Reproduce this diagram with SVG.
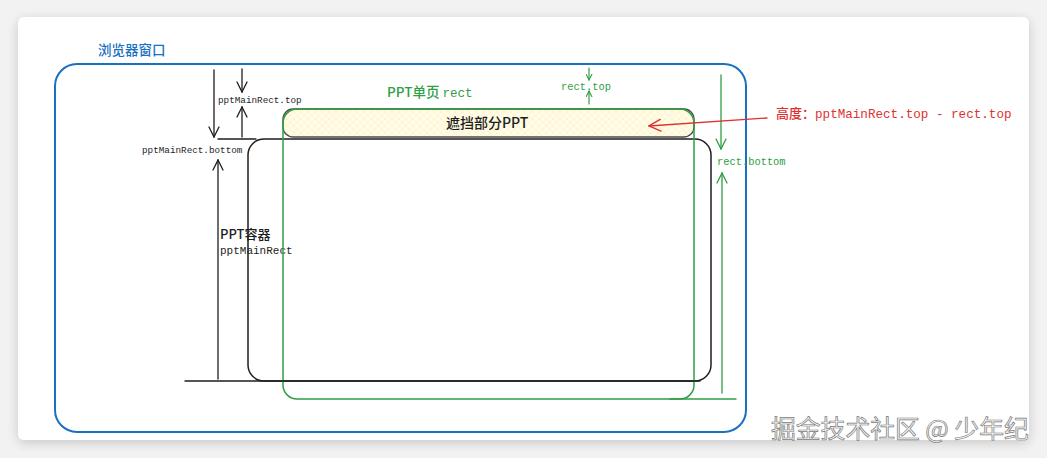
<svg xmlns="http://www.w3.org/2000/svg" width="1047" height="458" viewBox="0 0 1047 458">
<defs>
<filter id="sh" x="-5%" y="-5%" width="110%" height="115%">
<feGaussianBlur in="SourceAlpha" stdDeviation="6"/>
<feOffset dy="3"/>
<feComponentTransfer><feFuncA type="linear" slope="0.18"/></feComponentTransfer>
<feMerge><feMergeNode/><feMergeNode in="SourceGraphic"/></feMerge>
</filter>
<pattern id="hatch" width="7" height="7" patternUnits="userSpaceOnUse">
<rect width="7" height="7" fill="#fffcec"/>
<path d="M0 0 L7 7 M7 0 L0 7" stroke="#fff0b0" stroke-width="0.7" fill="none"/>
</pattern>
<marker id="ab" viewBox="0 0 12 12" refX="11" refY="6" markerWidth="12" markerHeight="12" markerUnits="userSpaceOnUse" orient="auto">
<path d="M1 1 L11 6 L1 11" fill="none" stroke="#1e1e1e" stroke-width="1.3" stroke-linecap="round"/>
</marker>
<marker id="ag" viewBox="0 0 12 12" refX="11" refY="6" markerWidth="12" markerHeight="12" markerUnits="userSpaceOnUse" orient="auto">
<path d="M1 1 L11 6 L1 11" fill="none" stroke="#2f9e44" stroke-width="1.3" stroke-linecap="round"/>
</marker>
<marker id="ags" viewBox="0 0 12 12" refX="11" refY="6" markerWidth="7" markerHeight="7" markerUnits="userSpaceOnUse" orient="auto">
<path d="M1 1 L11 6 L1 11" fill="none" stroke="#2f9e44" stroke-width="1.8" stroke-linecap="round"/>
</marker>
<marker id="ar" viewBox="0 0 12 12" refX="11" refY="6" markerWidth="14" markerHeight="14" markerUnits="userSpaceOnUse" orient="auto">
<path d="M1 1 L11 6 L1 11" fill="none" stroke="#e03131" stroke-width="1.2" stroke-linecap="round"/>
</marker>
</defs>
<style>
.mono{font-family:"Liberation Mono","DejaVu Sans Mono",monospace;}
.sans{font-family:"Noto Sans CJK SC","Noto Sans",sans-serif;font-weight:500;}
.blk{fill:#1e1e1e;}
.grn{fill:#2f9e44;}
.ln{fill:none;stroke-linecap:round;}
</style>
<rect x="0" y="0" width="1047" height="458" fill="#f2f2f2"/>
<rect x="18" y="17" width="1011" height="423" rx="6" fill="#ffffff" filter="url(#sh)"/>

<g id="browser">
<rect x="55" y="64" width="691" height="368" rx="22" fill="none" stroke="#1971c2" stroke-width="2"/>
<text x="98" y="55" class="sans" font-size="13.5" fill="#1971c2">浏览器窗口</text>
</g>

<g id="ppt-container">
<rect x="248" y="139" width="463" height="242" rx="16" fill="none" stroke="#1e1e1e" stroke-width="1.5"/>
<text x="220" y="239" class="sans blk" font-size="13">PPT容器</text>
<text x="220" y="254" class="mono blk" font-size="11">pptMainRect</text>
</g>

<g id="hidden-part">
<rect x="283" y="109" width="411" height="28" rx="10" fill="url(#hatch)" stroke="#4a4a4a" stroke-width="1.3"/>
<text x="446" y="128" class="sans blk" font-size="14">遮挡部分PPT</text>
</g>

<g id="ppt-page">
<rect x="283" y="109" width="411" height="290" rx="14" fill="none" stroke="#2f9e44" stroke-width="1.5"/>
<text x="387" y="97" class="sans grn" font-size="13.5">PPT单页 <tspan class="mono" font-size="12.5">rect</tspan></text>
</g>

<g id="labels">
<text x="218" y="103" class="mono blk" font-size="9.3">pptMainRect.top</text>
<text x="142" y="153" class="mono blk" font-size="9.3">pptMainRect.bottom</text>
<text x="561" y="90" class="mono grn" font-size="10.4">rect.top</text>
<text x="717" y="165" class="mono grn" font-size="10.4">rect.bottom</text>
<text x="776" y="118" class="sans" font-size="13" fill="#e03131">高度：<tspan class="mono" font-size="12.6">pptMainRect.top - rect.top</tspan></text>
</g>

<g id="connectors">
<line x1="214" y1="70" x2="214" y2="137" class="ln" stroke="#1e1e1e" stroke-width="1.3" marker-end="url(#ab)"/>
<line x1="218" y1="379" x2="218" y2="160" class="ln" stroke="#1e1e1e" stroke-width="1.3" marker-end="url(#ab)"/>
<line x1="242" y1="69" x2="242" y2="92" class="ln" stroke="#1e1e1e" stroke-width="1.3" marker-end="url(#ab)"/>
<line x1="242" y1="137" x2="242" y2="107" class="ln" stroke="#1e1e1e" stroke-width="1.3" marker-end="url(#ab)"/>
<line x1="218" y1="139" x2="256" y2="139" class="ln" stroke="#1e1e1e" stroke-width="1.3"/>
<line x1="185" y1="381" x2="700" y2="381" class="ln" stroke="#1e1e1e" stroke-width="1.3"/>
<line x1="589" y1="68" x2="589" y2="80" class="ln" stroke="#2f9e44" stroke-width="1.2" marker-end="url(#ags)"/>
<line x1="589" y1="104" x2="589" y2="91" class="ln" stroke="#2f9e44" stroke-width="1.2" marker-end="url(#ags)"/>
<line x1="721" y1="75" x2="721" y2="149" class="ln" stroke="#2f9e44" stroke-width="1.3" marker-end="url(#ag)"/>
<line x1="722" y1="393" x2="722" y2="173" class="ln" stroke="#2f9e44" stroke-width="1.3" marker-end="url(#ag)"/>
<line x1="670" y1="399" x2="736" y2="399" class="ln" stroke="#2f9e44" stroke-width="1.3"/>
<line x1="767" y1="118" x2="649" y2="126" class="ln" stroke="#e03131" stroke-width="1.3" marker-end="url(#ar)"/>
</g>

<text x="771" y="438" font-family="Noto Sans CJK SC, sans-serif" font-size="24.8" fill="#f6f6f6" stroke="#7a7a7a" stroke-width="0.7">掘金技术社区 @ 少年纪</text>
</svg>
